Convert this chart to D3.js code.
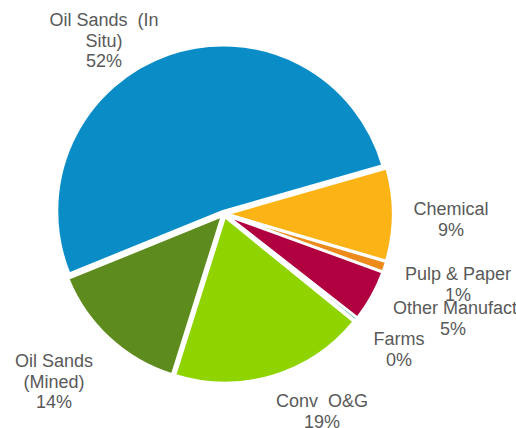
<!DOCTYPE html>
<html lang="en">
<head>
<meta charset="utf-8" />
<title>Emissions share by sector</title>
<style>
  html, body { margin: 0; padding: 0; background: #fff; overflow: hidden; }
  svg { display: block; }
  .lbl { font-family: "Liberation Sans", Arial, sans-serif; font-size: 18px; fill: #595959; white-space: pre; }
</style>
</head>
<body>
<script src="https://cdnjs.cloudflare.com/ajax/libs/d3/7.8.5/d3.min.js"></script>
<script>
  // data (clockwise from the Chemical slice)
  const categories = ["Chemical", "Pulp & Paper", "Other Manufacturing", "Farms", "Conv O&G", "Oil Sands (Mined)", "Oil Sands (In Situ)"];
  const shares = [9.0, 1.0, 5.0, 0.3, 19.0, 14.0, 51.7];
  const labelLines = [
    ["Chemical"],
    ["Pulp & Paper"],
    ["Other Manufacturing"],
    ["Farms"],
    ["Conv  O&G"],
    ["Oil Sands", "(Mined)"],
    ["Oil Sands  (In", "Situ)"]
  ];
  const colors = ["#fcb316", "#ec8a1c", "#b0003f", "#2a9d8f", "#8fd300", "#5e8b1d", "#0a8dc7"];

  // label layout: centre x and first baseline for each label block
  const labelPos = [
    [451, 215], [458, 280], [453, 314], [399, 345], [322, 407], [54, 367], [104, 26]
  ];

  const width = 516, height = 428;
  const cx = 224, cy = 214, radius = 166, explode = 3;
  const lineH = 20.5;

  const svg = d3.select("body").append("svg")
      .attr("width", width)
      .attr("height", height);

  const total = d3.sum(shares);
  const startA = 74 * Math.PI / 180;

  const pie = d3.pie()
      .sort(null)
      .startAngle(startA)
      .endAngle(startA + 2 * Math.PI)
      .value(d => d);

  const arcs = pie(shares);
  const arc = d3.arc().innerRadius(0).outerRadius(radius);

  const g = svg.append("g").attr("transform", "translate(" + cx + "," + cy + ")");

  //slices, pulled slightly away from the centre
  g.selectAll("path")
    .data(arcs)
    .enter()
    .append("path")
    .attr("d", arc)
    .attr("transform", d => {
      const m = (d.startAngle + d.endAngle) / 2;
      return "translate(" + (Math.sin(m) * explode) + "," + (-Math.cos(m) * explode) + ")";
    })
    .style("fill", (d, i) => colors[i])
    .style("stroke", "#fff")
    .style("stroke-width", 2.5)
    .style("stroke-linejoin", "round");

  //labels
  const fmt = v => Math.round(v / total * 100) + "%";
  categories.forEach((c, i) => {
    const lines = labelLines[i].concat([fmt(shares[i])]);
    const [lx, ly] = labelPos[i];
    const t = svg.append("text").attr("class", "lbl").attr("text-anchor", "middle");
    lines.forEach((ln, j) => {
      const ts = t.append("tspan").attr("x", lx).attr("y", ly + j * lineH).text(ln);
      // long name overflows the right edge, anchor it from its left side
      if (c === "Other Manufacturing" && j === 0) {
        ts.attr("text-anchor", "start").attr("x", lx - 60);
      }
    });
  });
</script>
</body>
</html>
